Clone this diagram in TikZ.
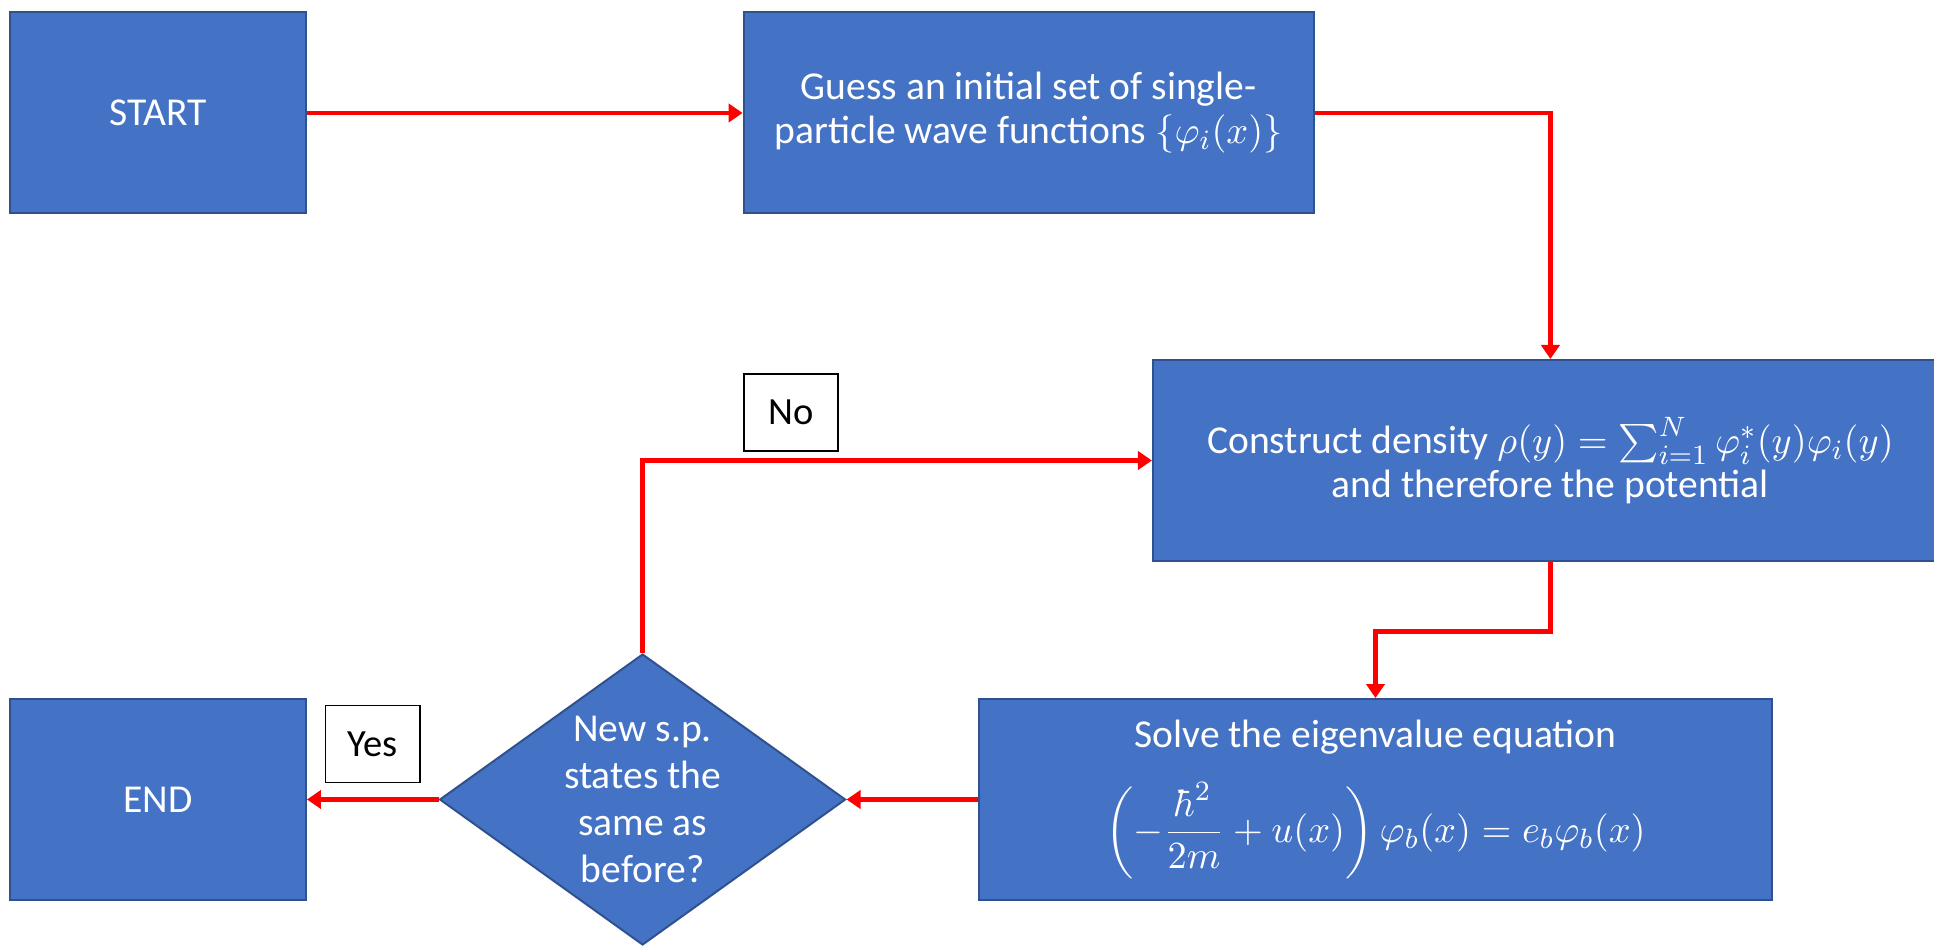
\documentclass[tikz,border=0pt]{standalone}
\usepackage{amsmath}
\usepackage{fontspec}
\setmainfont{Carlito}
\usetikzlibrary{arrows.meta,shapes.geometric}
\definecolor{boxblue}{HTML}{4472C4}
\definecolor{boxedge}{HTML}{2F528F}
\definecolor{arrred}{HTML}{FF0000}
\tikzset{
  blockbox/.style={rectangle, draw=boxedge, line width=0.57pt, fill=boxblue, text=white, align=center, inner sep=0pt, font=\fontsize{11.3}{12.6}\selectfont, minimum height=57.43pt},
  decbox/.style={diamond, draw=boxedge, line width=0.57pt, fill=boxblue, inner sep=0pt, minimum width=116pt, minimum height=83.14pt},
  dectext/.style={text=white, align=center, font=\fontsize{11.3}{13.4}\selectfont, inner sep=0pt},
  tagbox/.style={rectangle, draw=black, line width=0.57pt, fill=white, text=black, font=\fontsize{11}{13}\selectfont, minimum width=26.86pt, minimum height=22pt, inner sep=0pt},
  flow/.style={draw=arrred, line width=1.29pt, -{Triangle[length=4pt,width=5.2pt]}},
}
\begin{document}
\begin{tikzpicture}[x=0.285714pt, y=-0.285714pt]
\useasboundingbox (0,0) rectangle (1934,946);
\node[blockbox, minimum width=84.57pt] (start) at (158,113) {START};
\node[blockbox, minimum width=162.86pt] (guess) at (1028.6,113) {Guess an initial set of single-\\particle wave functions $\{\varphi_i(x)\}$};
\node[blockbox, minimum width=227.14pt] (construct) at (1550.4,460.5) {Construct density $\rho(y)=\sum_{i=1}^{N}\varphi_i^{*}(y)\varphi_i(y)$\\and therefore the potential};
\node[blockbox, minimum width=226.57pt] (solve) at (1375.5,799.5) {Solve the eigenvalue equation\\[7pt]$\displaystyle\left(-\frac{\hbar^2}{2m}+u(x)\right)\varphi_b(x)=e_b\varphi_b(x)$};
\node[decbox] (dec) at (642.6,799.5) {};
\node[dectext] (dectxt) at (642.6,799.5) {New s.p.\\states the\\same as\\before?};
\node[blockbox, minimum width=84.57pt] (end) at (158,799.5) {END};
\node[tagbox] (no) at (790.7,412.5) {No};
\node[tagbox] (yes) at (372.5,744) {Yes};
\coordinate (bend) at (1375.5,631.5);
\draw[flow] (start.east) -- (guess.west);
\draw[flow] (guess.east) -| (construct.north);
\draw[flow] (construct.south) |- (bend) -- (solve.north);
\draw[flow] (solve.west) -- (dec.east);
\draw[flow] (dec.west) -- (end.east);
\draw[flow] (dec.north) |- (construct.west);
\end{tikzpicture}
\end{document}
